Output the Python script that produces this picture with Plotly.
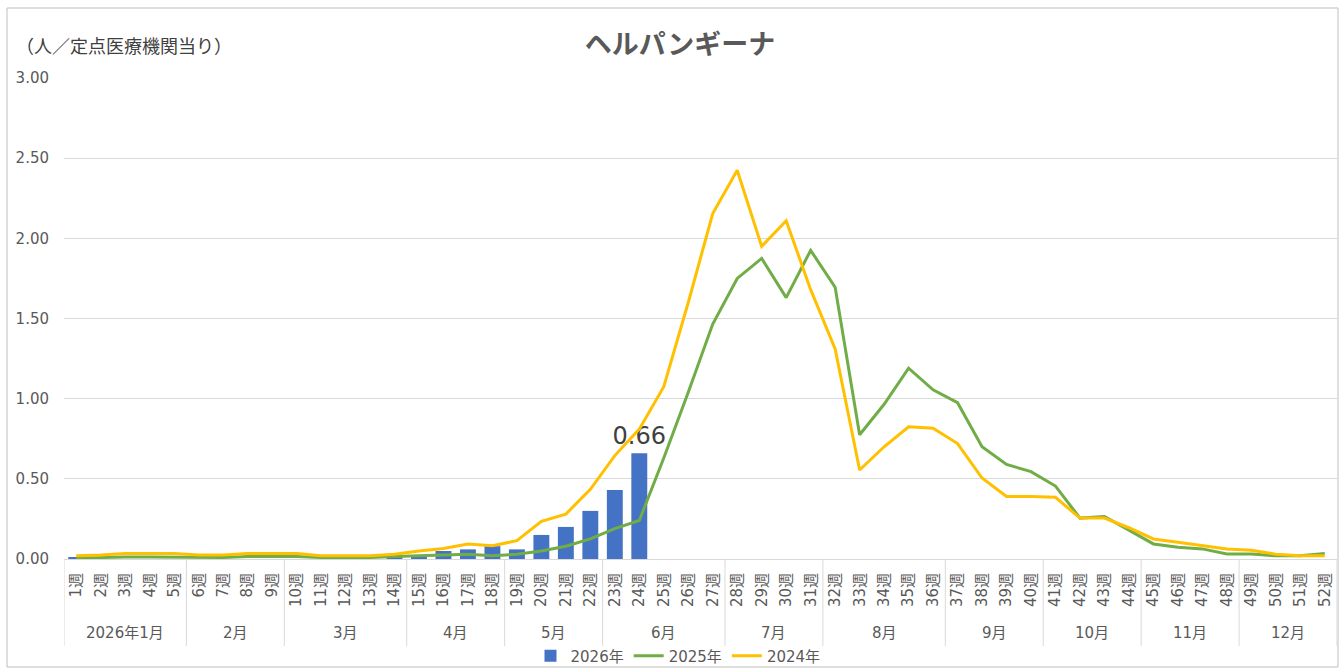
import plotly.graph_objects as go

months = ["2026年1月", "2月", "3月", "4月", "5月", "6月", "7月", "8月", "9月", "10月", "11月", "12月"]
weeks_per_month = [5, 4, 5, 4, 4, 5, 4, 5, 4, 4, 4, 4]
week_labels = [f"{i}週" for i in range(1, 53)]

v2026 = [0.01, 0.00, 0.00, 0.00, 0.00, 0.00, 0.00, 0.00, 0.00, 0.00,
         0.00, 0.00, 0.00, 0.01, 0.02, 0.05, 0.06, 0.08, 0.06, 0.15,
         0.20, 0.30, 0.43, 0.66]

v2025 = [0.005, 0.01, 0.013, 0.013, 0.013, 0.01, 0.01, 0.015, 0.015, 0.015,
         0.01, 0.01, 0.01, 0.015, 0.02, 0.025, 0.03, 0.02, 0.03, 0.05,
         0.08, 0.125, 0.19, 0.24, 0.63, 1.04, 1.465, 1.75, 1.875, 1.63,
         1.925, 1.695, 0.775, 0.965, 1.19, 1.055, 0.975, 0.70, 0.59, 0.545,
         0.455, 0.255, 0.265, 0.18, 0.094, 0.073, 0.063, 0.031, 0.031, 0.02,
         0.02, 0.035]

v2024 = [0.02, 0.025, 0.035, 0.035, 0.035, 0.025, 0.025, 0.035, 0.035, 0.035,
         0.02, 0.02, 0.02, 0.03, 0.05, 0.065, 0.093, 0.083, 0.114, 0.235,
         0.28, 0.435, 0.645, 0.81, 1.075, 1.60, 2.155, 2.425, 1.95, 2.11,
         1.68, 1.31, 0.555, 0.70, 0.825, 0.815, 0.72, 0.505, 0.39, 0.39,
         0.385, 0.255, 0.255, 0.195, 0.125, 0.105, 0.083, 0.063, 0.055, 0.03,
         0.02, 0.02]

label_2026 = ["" for _ in v2026]
label_2026[-1] = f"{v2026[-1]:.2f}"

CJK = "Noto Sans CJK JP"
NUM = "DejaVu Sans, Noto Sans CJK JP"
GRAY = "#595959"
GRID = "#D9D9D9"

W, H = 1339, 668
L, R, T, B = 64, 2, 78, 109
pw, ph = W - L - R, H - T - B


def px(xp):
    return (xp - L) / pw


def py(yp):
    return (H - B - yp) / ph


fig = go.Figure()
fig.add_trace(go.Bar(
    x=week_labels[:len(v2026)], y=v2026, name="2026年",
    marker=dict(color="#4472C4", line=dict(width=0)),
    text=label_2026, textposition="outside", constraintext="none",
    textfont=dict(size=24, color="#404040", family=NUM),
    cliponaxis=False,
))
fig.add_trace(go.Scatter(
    x=week_labels, y=v2025, name="2025年", mode="lines",
    line=dict(color="#70AD47", width=3),
))
fig.add_trace(go.Scatter(
    x=week_labels, y=v2024, name="2024年", mode="lines",
    line=dict(color="#FFC000", width=3),
))

annotations = [dict(text="（人／定点医療機関当り）", xref="paper", yref="paper",
                    x=px(14), y=py(45), xanchor="left", yanchor="middle",
                    showarrow=False, font=dict(size=18, color="#404040", family=CJK))]
shapes = [dict(type="rect", xref="paper", yref="paper",
               x0=px(7), x1=px(1338), y0=py(667), y1=py(8),
               line=dict(color="#BFBFBF", width=1), layer="below")]
start = 0
bounds = [-0.5]
for m, n in zip(months, weeks_per_month):
    end = start + n - 1
    annotations.append(dict(text=m, xref="x", yref="paper", x=(start + end) / 2, y=py(633),
                            xanchor="center", yanchor="middle", showarrow=False,
                            font=dict(size=15, color=GRAY, family=NUM)))
    start += n
    bounds.append(start - 0.5)
for b in bounds:
    shapes.append(dict(type="line", xref="x", yref="paper", x0=b, x1=b,
                       y0=py(560), y1=py(646), line=dict(color=GRID, width=1)))

fig.update_layout(
    width=W, height=H,
    margin=dict(l=L, r=R, t=T, b=B),
    paper_bgcolor="white", plot_bgcolor="white",
    font=dict(family=NUM, color=GRAY, size=14),
    bargap=0.35,
    showlegend=True,
    legend=dict(orientation="h", xref="container", yref="container",
                x=678 / W, xanchor="center", y=1 - 656 / H, yanchor="middle",
                font=dict(size=15, color=GRAY, family=NUM), traceorder="normal",
                itemwidth=30, bgcolor="rgba(0,0,0,0)", borderwidth=0,
                tracegroupgap=0),
    title=dict(text="<b>ヘルパンギーナ</b>", x=px(680), xref="paper", xanchor="center",
               y=1 - 45 / H, yanchor="middle",
               font=dict(size=27, color=GRAY, family=CJK)),
    annotations=annotations,
    shapes=shapes,
)

fig.update_yaxes(
    range=[0, 3.0], tickvals=[0, 0.5, 1.0, 1.5, 2.0, 2.5, 3.0],
    tickformat=".2f", showgrid=True, gridcolor=GRID, gridwidth=1,
    zeroline=False, showline=False, ticks="", ticklabelstandoff=14,
    tickfont=dict(size=15, color=GRAY, family=NUM), automargin=False,
)
fig.update_xaxes(
    type="category", range=[-0.5, 51.5], tickangle=-90, showline=True, linecolor=GRID,
    linewidth=1, tickfont=dict(size=15, color=GRAY, family=NUM), automargin=False,
    showgrid=False, ticks="", ticklabelstandoff=7,
)

fig.write_html("out.html", config={"displayModeBar": False},
               post_script="document.body.style.margin='0';")
